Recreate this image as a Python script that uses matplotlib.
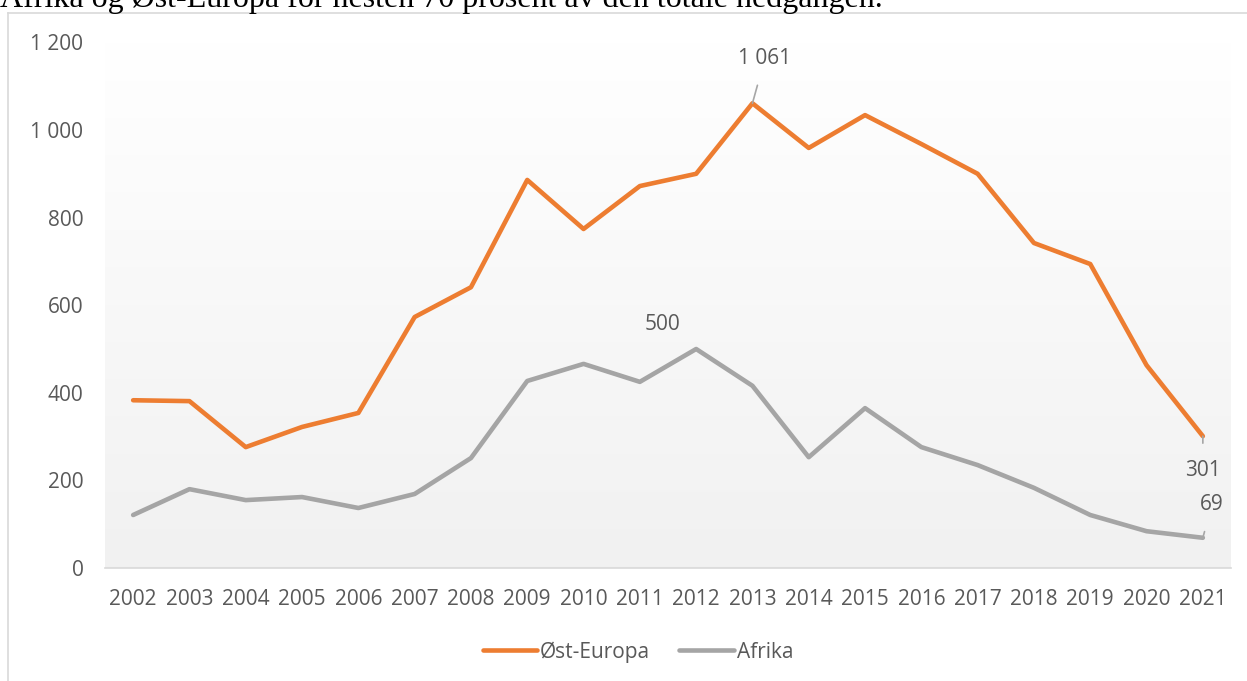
import numpy as np
import matplotlib.pyplot as plt
from matplotlib.lines import Line2D

years = [str(y) for y in range(2002, 2022)]
ost_europa = [383, 381, 276, 322, 354, 573, 641, 886, 774, 872, 900, 1061, 959, 1034, 968, 900, 742, 694, 463, 301]
afrika = [121, 180, 155, 162, 137, 169, 251, 427, 466, 425, 500, 416, 253, 365, 276, 235, 183, 121, 84, 69]
yticks = [0, 200, 400, 600, 800, 1000, 1200]

ORANGE = "#ED7D31"
GREY = "#A5A5A5"
TXT = "#595959"
FS = 15

plt.rcParams['font.family'] = ['Open Sans', 'DejaVu Sans']

fig = plt.figure(figsize=(12.47, 6.81), dpi=100)

# chart frame (only left and top visible in the crop)
fig.add_artist(Line2D([8/1247, 8/1247], [0, 1 - 13/681], transform=fig.transFigure, color="#D9D9D9", lw=1.2))
fig.add_artist(Line2D([8/1247, 1], [1 - 13/681, 1 - 13/681], transform=fig.transFigure, color="#D9D9D9", lw=1.2))

# cut-off caption above the chart
fig.text(0.0, 1 - 7/681, "Afrika og Øst-Europa for nesten 70 prosent av den totale nedgangen.",
         family="Liberation Serif", fontsize=23, color="black", va="baseline", ha="left")

ax = fig.add_axes([105/1247, 1 - 568/681, (1231 - 105)/1247, (568 - 42.4)/681])
x = np.arange(len(years))

# gradient background
grad = np.linspace(1.0, 0.945, 256).reshape(-1, 1)
ax.imshow(np.dstack([grad, grad, grad]), extent=[-0.5, len(years) - 0.5, 0, 1200],
          aspect="auto", zorder=0, origin="upper")

ax.plot(x, ost_europa, color=ORANGE, lw=3.3, solid_joinstyle="round", solid_capstyle="round", zorder=3)
ax.plot(x, afrika, color=GREY, lw=3.3, solid_joinstyle="round", solid_capstyle="round", zorder=3)

ax.set_xlim(-0.5, len(years) - 0.5)
ax.set_ylim(0, 1200)
ax.set_xticks(x)
ax.set_xticklabels(years)
ax.set_yticks(yticks)
ax.set_yticklabels([f"{v:,}".replace(",", " ") for v in yticks])
ax.tick_params(axis="both", length=0, labelsize=FS, labelcolor=TXT)
ax.tick_params(axis="y", pad=15.5)
ax.tick_params(axis="x", pad=15)
for s in ["top", "right", "left"]:
    ax.spines[s].set_visible(False)
ax.spines["bottom"].set_color("#D9D9D9")
ax.spines["bottom"].set_linewidth(1.2)

# data labels
lead = dict(arrowstyle="-", color="#A6A6A6", lw=1.2, shrinkA=10, shrinkB=0)
i13 = years.index("2013")
ax.annotate("1 061", xy=(i13, ost_europa[i13]), xytext=(i13 + 0.22, ost_europa[i13] + 102),
            ha="center", va="center", fontsize=FS, color=TXT, arrowprops=lead)
i12 = years.index("2012")
ax.text(i12 - 0.6, afrika[i12] + 55, "500", ha="center", va="center", fontsize=FS, color=TXT)
i21 = len(years) - 1
ax.annotate("301", xy=(i21, ost_europa[i21]), xytext=(i21, ost_europa[i21] - 78),
            ha="center", va="center", fontsize=FS, color=TXT, arrowprops=lead)
ax.annotate("69", xy=(i21, afrika[i21]), xytext=(i21 + 0.16, afrika[i21] + 75),
            ha="center", va="center", fontsize=FS, color=TXT, arrowprops=lead)

handles = [Line2D([], [], color=ORANGE, lw=3.3, solid_capstyle="round"),
           Line2D([], [], color=GREY, lw=3.3, solid_capstyle="round")]
fig.legend(handles, ["Øst-Europa", "Afrika"], loc="center", bbox_to_anchor=(638/1247, 1 - 652/681),
           ncol=2, frameon=False, fontsize=FS, labelcolor=TXT, handlelength=2.6,
           handletextpad=0.15, columnspacing=1.4)

fig.savefig("out.png", dpi=100)
